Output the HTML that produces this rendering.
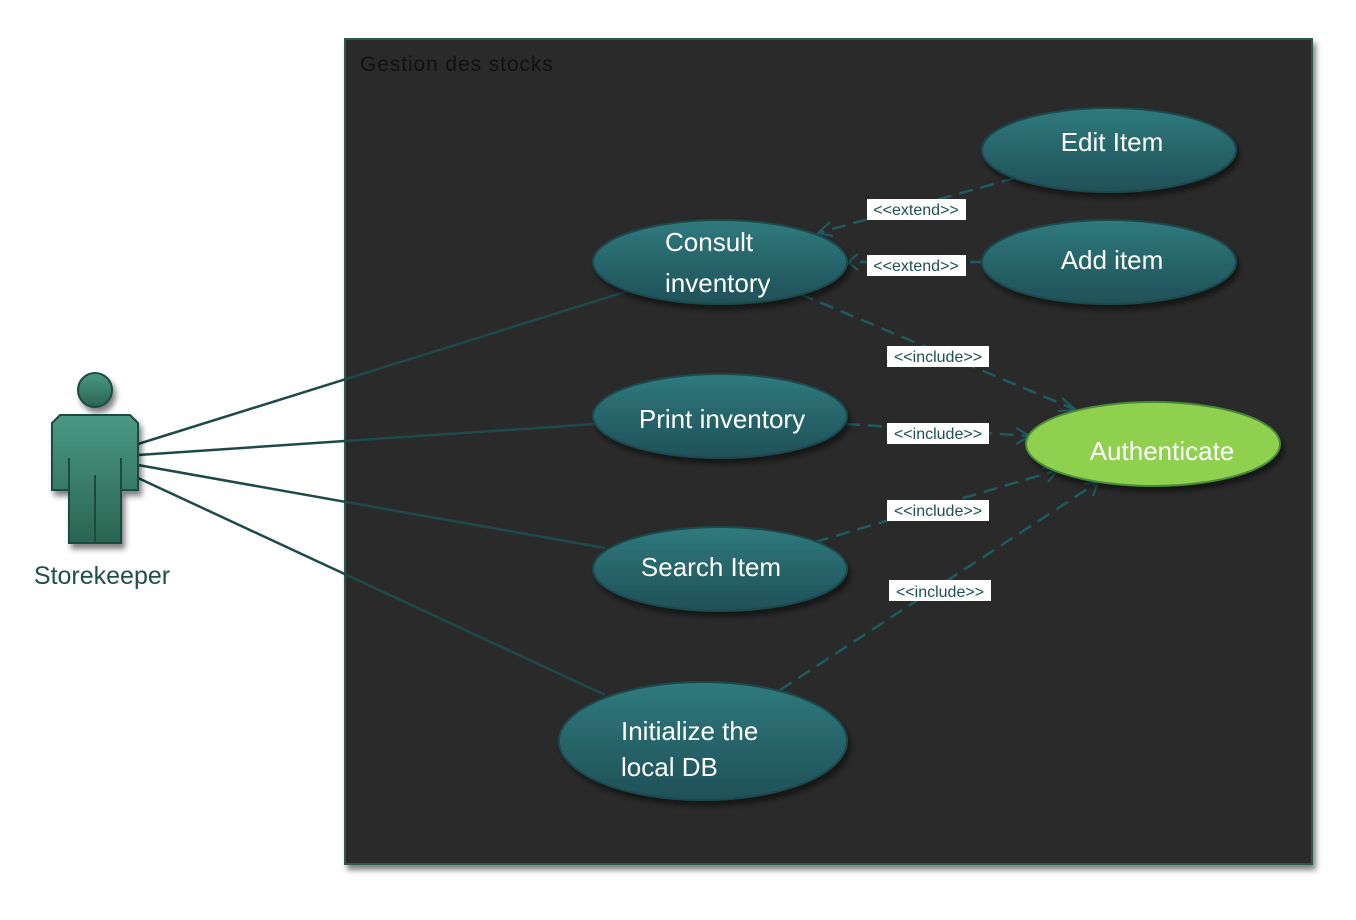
<!DOCTYPE html>
<html><head><meta charset="utf-8"><style>html,body{margin:0;padding:0;background:#fff;}svg{display:block}</style></head>
<body>
<svg width="1356" height="920" viewBox="0 0 1356 920" xmlns="http://www.w3.org/2000/svg" font-family="Liberation Sans, sans-serif">
<defs>
<linearGradient id="g" x1="0" y1="0" x2="0" y2="1"><stop offset="0" stop-color="#2f7a7d"/><stop offset="1" stop-color="#1f5058"/></linearGradient>
<linearGradient id="a" x1="0" y1="0" x2="0" y2="1"><stop offset="0" stop-color="#4a9884"/><stop offset="1" stop-color="#2a6550"/></linearGradient>
<filter id="s" x="-20%" y="-20%" width="140%" height="150%"><feDropShadow dx="3" dy="5" stdDeviation="3" flood-color="#000" flood-opacity="0.5"/></filter>
</defs>
<rect x="345" y="39" width="967" height="825" fill="#292929" stroke="#2b5a50" stroke-width="2" filter="url(#s)"/>
<text x="360" y="71" font-size="21" letter-spacing="0.9" fill="#111">Gestion des stocks</text>
<g stroke="#1d4a48" stroke-width="2.5" fill="none">
<line x1="138" y1="444" x2="628" y2="291"/>
<line x1="138" y1="455" x2="596" y2="424"/>
<line x1="138" y1="465" x2="605" y2="548"/>
<line x1="138" y1="478" x2="605" y2="695"/>
</g>
<g stroke="#1f5a5e" stroke-width="2.5" fill="none" stroke-dasharray="14,8">
<line x1="1015" y1="178" x2="818" y2="233"/>
<line x1="984" y1="262" x2="848" y2="262"/>
<line x1="800" y1="294" x2="1076" y2="410"/>
<line x1="846" y1="424" x2="1030" y2="436"/>
<line x1="815" y1="542" x2="1058" y2="470"/>
<line x1="780" y1="690" x2="1098" y2="482"/>
</g>
<g stroke="#1f5a5e" stroke-width="2" fill="none">
<polyline points="830,222 818,233 833,236"/>
<polyline points="858,254 848,262 858,270"/>
<polyline points="1062,398 1076,410 1058,411"/>
<polyline points="1016,428 1030,436 1016,444"/>
<polyline points="1042,468 1058,470 1048,482"/>
<polyline points="1084,484 1098,482 1093,496"/>
</g>
<g filter="url(#s)" stroke="#1a4a4e" stroke-width="2">
<ellipse cx="1109" cy="150" rx="127" ry="42" fill="url(#g)"/>
<ellipse cx="1109" cy="262" rx="127" ry="42" fill="url(#g)"/>
<ellipse cx="720" cy="262" rx="127" ry="42" fill="url(#g)"/>
<ellipse cx="720" cy="416" rx="127" ry="42" fill="url(#g)"/>
<ellipse cx="1153" cy="444" rx="127" ry="42" fill="#8fd14f" stroke="#4a8a3a"/>
<ellipse cx="720" cy="569" rx="127" ry="42" fill="url(#g)"/>
<ellipse cx="703" cy="741" rx="144" ry="59" fill="url(#g)"/>
</g>
<g fill="#fff" font-size="26">
<text x="1112" y="151" text-anchor="middle">Edit Item</text>
<text x="1112" y="269" text-anchor="middle">Add item</text>
<text x="665" y="251">Consult</text>
<text x="665" y="292">inventory</text>
<text x="722" y="428" text-anchor="middle">Print inventory</text>
<text x="1162" y="460" text-anchor="middle">Authenticate</text>
<text x="711" y="576" text-anchor="middle">Search Item</text>
<text x="621" y="740">Initialize  the</text>
<text x="621" y="776">local DB</text>
</g>
<g font-size="16" fill="#1f4f50">
<rect x="867" y="199" width="99" height="21" fill="#fff"/><text x="916" y="215" text-anchor="middle">&lt;&lt;extend&gt;&gt;</text>
<rect x="867" y="255" width="99" height="21" fill="#fff"/><text x="916" y="271" text-anchor="middle">&lt;&lt;extend&gt;&gt;</text>
<rect x="887" y="346" width="102" height="21" fill="#fff"/><text x="938" y="362" text-anchor="middle">&lt;&lt;include&gt;&gt;</text>
<rect x="887" y="423" width="102" height="21" fill="#fff"/><text x="938" y="439" text-anchor="middle">&lt;&lt;include&gt;&gt;</text>
<rect x="887" y="500" width="102" height="21" fill="#fff"/><text x="938" y="516" text-anchor="middle">&lt;&lt;include&gt;&gt;</text>
<rect x="889" y="580" width="102" height="21" fill="#fff"/><text x="940" y="597" text-anchor="middle">&lt;&lt;include&gt;&gt;</text>
</g>
<g filter="url(#s)" stroke="#1d4a40" stroke-width="2" fill="url(#a)">
<circle cx="95" cy="390" r="17"/>
<path d="M60,415 L130,415 L138,423 L138,490 L121,490 L121,543 L69,543 L69,490 L52,490 L52,423 Z"/>
</g>
<g stroke="#1d4a40" stroke-width="2"><line x1="69" y1="458" x2="69" y2="490"/><line x1="121" y1="458" x2="121" y2="490"/><line x1="95" y1="475" x2="95" y2="543"/></g>
<text x="102" y="584" text-anchor="middle" font-size="25" fill="#1f4f46">Storekeeper</text>
</svg>
</body></html>
